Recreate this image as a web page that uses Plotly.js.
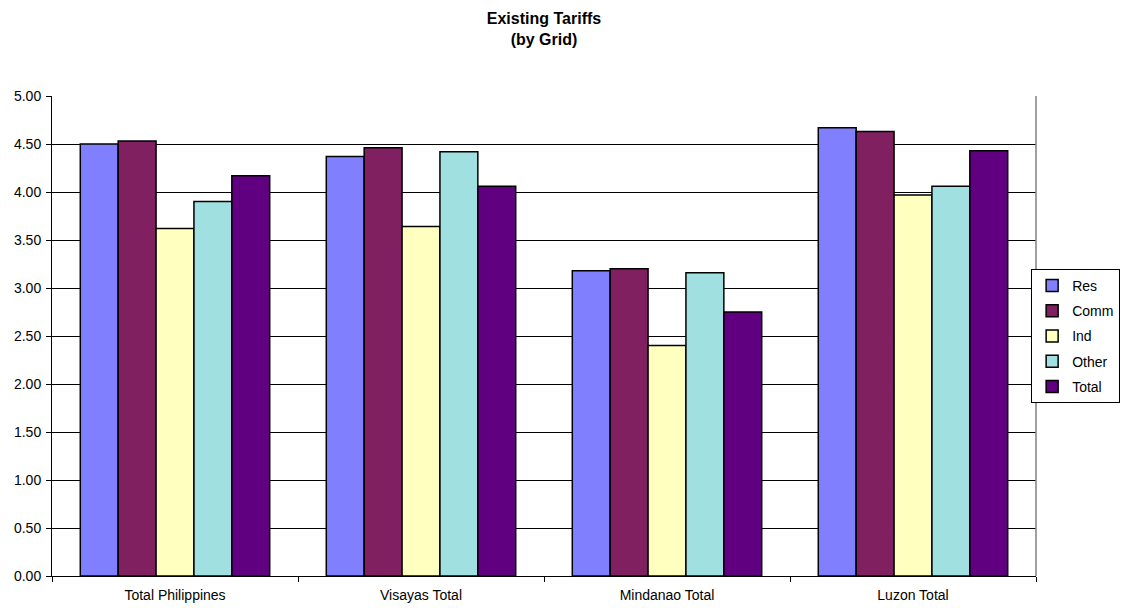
<!DOCTYPE html>
<html>
<head>
<meta charset="utf-8">
<script src="https://cdn.plot.ly/plotly-3.0.1.min.js"></script>
<style>html,body{margin:0;padding:0;background:#fff;}#chart{width:1122px;height:608px;}</style>
</head>
<body>
<div id="chart"></div>
<script>
const categories = ["Total Philippines", "Visayas Total", "Mindanao Total", "Luzon Total"];
const seriesNames = ["Res", "Comm", "Ind", "Other", "Total"];
const res   = [4.50, 4.37, 3.18, 4.67];
const comm  = [4.53, 4.46, 3.20, 4.63];
const ind   = [3.62, 3.64, 2.40, 3.97];
const other = [3.90, 4.42, 3.16, 4.06];
const total = [4.17, 4.06, 2.75, 4.43];
const yTickVals = [0, 0.5, 1, 1.5, 2, 2.5, 3, 3.5, 4, 4.5, 5];

const seriesValues = [res, comm, ind, other, total];
const colors = ["#8080FF", "#802060", "#FFFFC0", "#A0E0E0", "#600080"];

const traces = seriesNames.map((name, i) => ({
  type: "bar",
  name: name,
  legendgroup: "g" + i,
  x: categories,
  y: seriesValues[i],
  marker: {color: colors[i], line: {color: "#000000", width: 1.5}},
  hoverinfo: "x+y+name"
}));

const layout = {
  width: 1122, height: 608,
  paper_bgcolor: "#ffffff", plot_bgcolor: "#ffffff",
  font: {family: "Arial, Liberation Sans, sans-serif", size: 14, color: "#000"},
  margin: {l: 52, r: 86, t: 96, b: 32, pad: 0, autoexpand: false},
  title: {text: "<b>Existing Tariffs<br>(by Grid)</b>", font: {size: 16, family: "Arial, Liberation Sans, sans-serif"}, x: 0.5, xref: "paper", xanchor: "center", y: 0.96, yanchor: "top"},
  barmode: "group",
  bargap: 0.23,
  bargroupgap: 0,
  showlegend: true,
  legend: {x: 1.0855, xanchor: "right", y: 0.5, yanchor: "middle", bordercolor: "#000", borderwidth: 1, font: {size: 14}, itemwidth: 30, tracegroupgap: 4, bgcolor: "#fff"},
  xaxis: {type: "category", showgrid: false, showline: true, linecolor: "#000", linewidth: 1, ticks: "outside", tickson: "boundaries", ticklen: 5, tickcolor: "#000", tickfont: {size: 14}, ticklabelstandoff: 6, zeroline: false, fixedrange: true},
  yaxis: {range: [0, 5], tickvals: yTickVals, tickformat: ".2f", showgrid: true, gridcolor: "#000", gridwidth: 1, showline: true, linecolor: "#000", ticks: "outside", ticklen: 5, tickcolor: "#000", tickfont: {size: 14}, ticklabelstandoff: 2, zeroline: false, fixedrange: true},
  shapes: [{type: "line", xref: "paper", yref: "paper", x0: 1, x1: 1, y0: 0, y1: 1, line: {color: "#808080", width: 1.5}}]
};

Plotly.newPlot("chart", traces, layout, {displayModeBar: false, staticPlot: true});
</script>
</body>
</html>
